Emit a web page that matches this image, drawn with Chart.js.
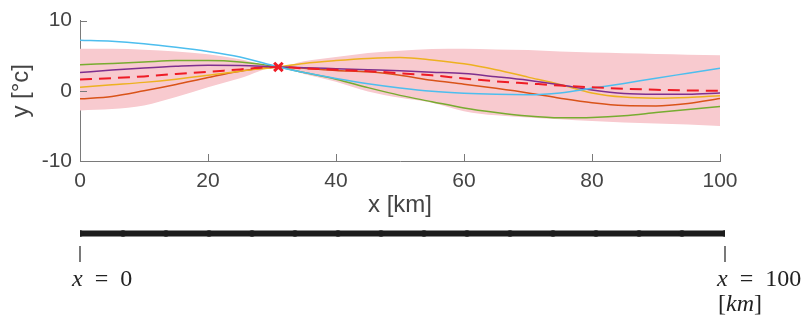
<!DOCTYPE html>
<html>
<head>
<meta charset="utf-8">
<script src="https://cdn.jsdelivr.net/npm/chart.js@4"></script>
<style>
    body { margin: 0; background: #fff; }
    #wrap { position: relative; width: 808px; height: 320px; overflow: hidden; }
    #mainChart { position: absolute; left: 0; top: 0; }
    #meshChart { position: absolute; left: 0; top: 220px; }
    .tex { position: absolute; font-family: "Liberation Serif", "DejaVu Serif", serif; font-size: 24px; line-height: 24px; color: #222; white-space: nowrap; }
    .tex i { font-style: italic; }
</style>
</head>
<body>
<div id="wrap">
    <canvas id="mainChart" width="808" height="220"></canvas>
    <canvas id="meshChart" width="808" height="100"></canvas>
    <div class="tex" style="left:72px; top:266px;"><i>x</i>&ensp;=&ensp;0</div>
    <div class="tex" style="left:717px; top:266px;"><i>x</i>&ensp;=&ensp;100</div>
    <div class="tex" style="left:718px; top:291px;">[<i>km</i>]</div>
</div>
<script>
// x positions (km)
let xs = [0, 5, 10, 15, 20, 25, 31, 35, 40, 45, 50, 55, 60, 65, 70, 75, 80, 85, 90, 95, 100];

// sample curves (°c)
let cyan   = [7.2, 7.05, 6.7, 6.2, 5.6, 4.8, 3.4, 2.6, 1.75, 1.0, 0.4, -0.07, -0.35, -0.5, -0.55, -0.3, 0.35, 1.05, 1.8, 2.5, 3.2];
let green  = [3.7, 3.9, 4.1, 4.3, 4.3, 4.1, 3.4, 2.6, 1.65, 0.45, -0.65, -1.55, -2.45, -3.1, -3.6, -3.85, -3.8, -3.55, -3.1, -2.65, -2.25];
let purple = [2.6, 2.95, 3.25, 3.5, 3.65, 3.6, 3.4, 3.3, 3.15, 3.0, 2.85, 2.65, 2.45, 2.0, 1.5, 0.85, 0.1, -0.4, -0.5, -0.5, -0.3];
let yellow = [0.5, 0.85, 1.2, 1.65, 2.2, 2.8, 3.4, 3.9, 4.3, 4.6, 4.75, 4.4, 3.85, 3.0, 1.95, 0.9, -0.3, -0.9, -1.05, -0.95, -0.7];
let orange = [-1.15, -0.8, 0.0, 0.9, 1.9, 2.8, 3.4, 3.2, 2.9, 2.7, 2.2, 1.5, 0.95, 0.35, -0.3, -1.05, -1.7, -2.1, -2.15, -1.8, -1.1];

// mean and band
let mean  = [1.6, 1.8, 2.05, 2.4, 2.7, 3.05, 3.4, 3.2, 3.0, 2.8, 2.5, 2.2, 1.75, 1.35, 1.05, 0.75, 0.5, 0.3, 0.15, 0.05, 0.0];
let upper = [6.0, 6.0, 5.85, 5.6, 5.2, 4.5, 3.4, 4.2, 4.8, 5.4, 5.7, 5.95, 6.0, 5.9, 5.8, 5.6, 5.45, 5.35, 5.25, 5.15, 5.05];
let lower = [-2.8, -2.6, -2.1, -0.9, 0.5, 1.8, 3.4, 2.4, 1.3, -0.1, -1.0, -1.7, -2.9, -3.5, -3.8, -4.05, -4.3, -4.5, -4.65, -4.8, -5.0];

// observation
let obsX = [31];
let obsY = [3.4];

let xTicks = [0, 20, 40, 60, 80, 100];
let yTicks = [-10, 0, 10];

// mesh nodes
let nodes = [0, 6.67, 13.33, 20, 26.67, 33.33, 40, 46.67, 53.33, 60, 66.67, 73.33, 80, 86.67, 93.33, 100];

function pts(ys) {
    return xs.map((x, i) => ({ x: x, y: ys[i] }));
}

function curve(ys, color, order) {
    return {
        data: pts(ys),
        borderColor: color,
        borderWidth: 1.5,
        pointRadius: 0,
        cubicInterpolationMode: "monotone",
        fill: false,
        order: order
    };
}

let axisGray = "#7a7a7a";
let textGray = "#444444";

// inward tick marks like the original
let inwardTicks = {
    id: "inwardTicks",
    afterDraw(c) {
        let ctx = c.ctx;
        let sx = c.scales.x, sy = c.scales.y;
        ctx.save();
        ctx.strokeStyle = axisGray;
        ctx.lineWidth = 1;
        ctx.beginPath();
        xTicks.forEach(v => {
            let p = Math.round(sx.getPixelForValue(v)) + 0.5;
            ctx.moveTo(p, sy.bottom);
            ctx.lineTo(p, sy.bottom - 7);
        });
        yTicks.forEach(v => {
            let p = Math.round(sy.getPixelForValue(v)) + 0.5;
            ctx.moveTo(sx.left, p);
            ctx.lineTo(sx.left + 7, p);
        });
        ctx.stroke();
        ctx.restore();
    }
};

Chart.defaults.font.family = "'Liberation Sans', Arial, sans-serif";
Chart.defaults.color = textGray;

new Chart(document.getElementById("mainChart").getContext("2d"), {
    type: "line",
    data: {
        datasets: [
            {
                data: obsX.map((x, i) => ({ x: x, y: obsY[i] })),
                showLine: false,
                pointStyle: "crossRot",
                pointRadius: 6,
                pointBorderWidth: 3,
                pointBorderColor: "#ee1c25",
                pointBackgroundColor: "#ee1c25",
                order: 0
            },
            {
                data: pts(mean),
                borderColor: "#ee1c25",
                borderWidth: 2,
                borderDash: [12, 7],
                pointRadius: 0,
                cubicInterpolationMode: "monotone",
                fill: false,
                order: 1
            },
            curve(cyan, "#4dbeee", 2),
            curve(purple, "#7e2f8e", 3),
            curve(yellow, "#edb120", 4),
            curve(orange, "#d95319", 5),
            curve(green, "#77ac30", 6),
            {
                data: pts(upper),
                borderWidth: 0,
                borderColor: "rgba(0,0,0,0)",
                pointRadius: 0,
                cubicInterpolationMode: "monotone",
                fill: false,
                order: 20
            },
            {
                data: pts(lower),
                borderWidth: 0,
                borderColor: "rgba(0,0,0,0)",
                backgroundColor: "#f8cacf",
                pointRadius: 0,
                cubicInterpolationMode: "monotone",
                fill: "-1",
                order: 21
            }
        ]
    },
    options: {
        responsive: false,
        animation: false,
        devicePixelRatio: 1,
        layout: { padding: { left: 0, right: 88, top: 19, bottom: 0 } },
        plugins: {
            legend: { display: false },
            tooltip: { enabled: false },
            filler: { drawTime: "beforeDatasetsDraw" }
        },
        scales: {
            x: {
                type: "linear",
                min: 0,
                max: 100,
                afterBuildTicks: s => { s.ticks = xTicks.map(v => ({ value: v })); },
                afterFit: s => { s.height = 59; },
                grid: { display: false, drawTicks: false },
                border: { display: true, color: axisGray, width: 1 },
                ticks: { padding: 8, font: { size: 21 }, color: textGray, maxRotation: 0 },
                title: { display: true, text: "x [km]", font: { size: 24 }, color: textGray, padding: { top: 0, bottom: 0 } }
            },
            y: {
                min: -10,
                max: 10,
                afterBuildTicks: s => { s.ticks = yTicks.map(v => ({ value: v })); },
                afterFit: s => { s.width = 80; },
                grid: { display: false, drawTicks: false },
                border: { display: true, color: axisGray, width: 1 },
                ticks: { padding: 8, font: { size: 21 }, color: textGray },
                title: { display: true, text: "y [°c]", font: { size: 24 }, color: textGray, padding: { top: 7, bottom: 0 } }
            }
        }
    },
    plugins: [inwardTicks]
});

// end markers under the mesh
let meshEnds = {
    id: "meshEnds",
    afterDraw(c) {
        let ctx = c.ctx;
        let sx = c.scales.x;
        ctx.save();
        ctx.strokeStyle = "#222";
        ctx.lineWidth = 1.2;
        ctx.beginPath();
        [nodes[0], nodes[nodes.length - 1]].forEach(v => {
            let p = sx.getPixelForValue(v);
            ctx.moveTo(p, 26);
            ctx.lineTo(p, 42);
        });
        ctx.stroke();
        ctx.restore();
    }
};

new Chart(document.getElementById("meshChart").getContext("2d"), {
    type: "line",
    data: {
        datasets: [{
            data: nodes.map(n => ({ x: n, y: 0 })),
            borderColor: "#1c1c1c",
            borderWidth: 6,
            borderCapStyle: "butt",
            pointRadius: 3.3,
            pointBackgroundColor: "#1c1c1c",
            pointBorderWidth: 0,
            tension: 0
        }]
    },
    options: {
        responsive: false,
        animation: false,
        devicePixelRatio: 1,
        layout: { padding: { left: 80, right: 83, top: 3, bottom: 77 } },
        plugins: { legend: { display: false }, tooltip: { enabled: false } },
        scales: {
            x: { type: "linear", min: 0, max: 100, display: false },
            y: { min: -1, max: 1, display: false }
        }
    },
    plugins: [meshEnds]
});
</script>
</body>
</html>
